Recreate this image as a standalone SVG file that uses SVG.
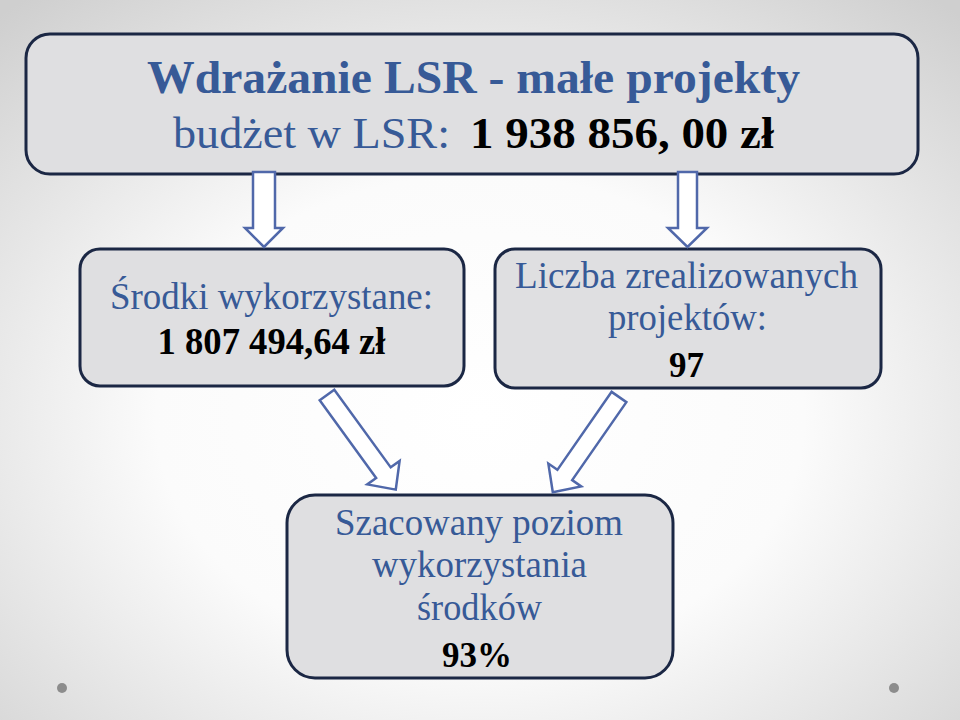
<svg xmlns="http://www.w3.org/2000/svg" width="960" height="720" viewBox="0 0 960 720">
<defs>
<radialGradient id="bg" cx="50%" cy="58%" r="75%">
<stop offset="0" stop-color="#ffffff"/>
<stop offset="0.45" stop-color="#fbfbfb"/>
<stop offset="1" stop-color="#cfcfcf"/>
</radialGradient>
<style>
.box{fill:#dfdfe1;stroke:#1b2744;stroke-width:3}
.arr{fill:#ffffff;stroke:#5068aa;stroke-width:2.5;stroke-linejoin:miter}
.t{font-family:"Liberation Serif","Times New Roman",serif;text-anchor:middle}
.blue{fill:#375a97}
.blk{fill:#000000;font-weight:bold}
.dot{fill:#8c8c8c}
</style>
</defs>
<rect x="0" y="0" width="960" height="720" fill="url(#bg)"/>
<circle class="dot" cx="62" cy="688" r="5"/>
<circle class="dot" cx="894" cy="688" r="5"/>

<g id="node-top">
<rect class="box" x="26" y="34" width="892" height="140" rx="24"/>
<text class="t blue" x="473.5" y="93" font-size="47" font-weight="bold" textLength="653" lengthAdjust="spacingAndGlyphs">Wdrażanie LSR - małe projekty</text>
<text class="t blue" x="311.5" y="148" font-size="45" textLength="277" lengthAdjust="spacingAndGlyphs">budżet w LSR:</text>
<text class="t blk" x="622" y="148" font-size="45" textLength="304" lengthAdjust="spacingAndGlyphs">1 938 856, 00 zł</text>
</g>

<g id="node-left">
<rect class="box" x="80" y="249" width="384" height="137" rx="20"/>
<text class="t blue" x="271.5" y="309" font-size="37" textLength="323" lengthAdjust="spacingAndGlyphs">Środki wykorzystane:</text>
<text class="t blk" x="271.5" y="354" font-size="37" textLength="228" lengthAdjust="spacingAndGlyphs">1 807 494,64 zł</text>
</g>

<g id="node-right">
<rect class="box" x="495" y="249" width="386" height="139" rx="20"/>
<text class="t blue" x="686.5" y="288" font-size="37" textLength="343" lengthAdjust="spacingAndGlyphs">Liczba zrealizowanych</text>
<text class="t blue" x="687.5" y="330" font-size="37" textLength="159" lengthAdjust="spacingAndGlyphs">projektów:</text>
<text class="t blk" x="686.5" y="377" font-size="35">97</text>
</g>

<g id="node-bottom">
<rect class="box" x="287" y="495" width="386" height="183" rx="28"/>
<text class="t blue" x="479" y="535" font-size="37" textLength="288" lengthAdjust="spacingAndGlyphs">Szacowany poziom</text>
<text class="t blue" x="479.5" y="577" font-size="37" textLength="215" lengthAdjust="spacingAndGlyphs">wykorzystania</text>
<text class="t blue" x="479.5" y="620" font-size="37" textLength="125" lengthAdjust="spacingAndGlyphs">środków</text>
<text class="t blk" x="477" y="667" font-size="35">93%</text>
</g>

<g id="connectors">
<polygon class="arr" points="253,172 275,172 275,228 283,228 264,247 245,228 253,228"/>
<polygon class="arr" points="678,172 697,172 697,228 707,228 687.5,247 668,228 678,228"/>
<polygon class="arr" transform="translate(327,395) rotate(54)" points="0,-9 96,-9 96,-20 117,0 96,20 96,9 0,9"/>
<polygon class="arr" transform="translate(619,397) rotate(124.8)" points="0,-9 95,-9 95,-20 116,0 95,20 95,9 0,9"/>
</g>
</svg>
